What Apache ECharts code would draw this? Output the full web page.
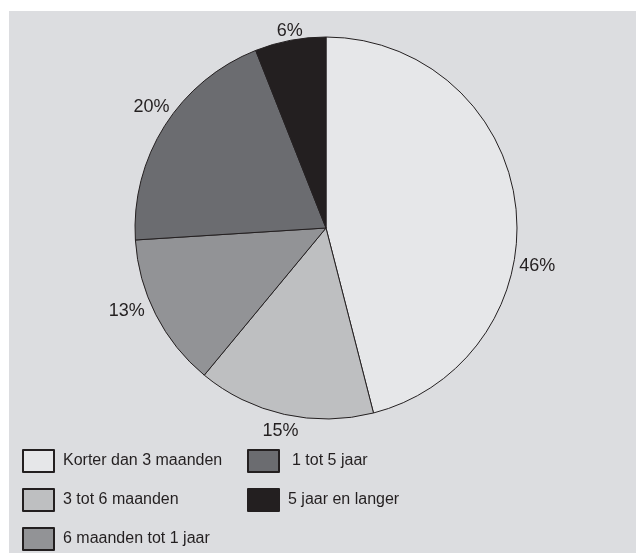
<!DOCTYPE html>
<html>
<head>
<meta charset="utf-8">
<script src="https://cdn.jsdelivr.net/npm/echarts@6/dist/echarts.min.js"></script>
<style>
  html, body { margin: 0; padding: 0; background: #ffffff; }
  #chart {
    position: absolute;
    left: 9px;
    top: 11px;
    width: 627px;
    height: 542px;
    background: #dcdde0;
  }
</style>
</head>
<body>
<div id="chart"></div>
<script>
const categories = [
  'Korter dan 3 maanden',
  '3 tot 6 maanden',
  '6 maanden tot 1 jaar',
  '1 tot 5 jaar',
  '5 jaar en langer'
]
const percentages = [46, 15, 13, 20, 6]
const sliceColors = ['#e6e7e9', '#bebfc1', '#929396', '#6b6c70', '#231f20']

const chart = echarts.init(document.getElementById('chart'))

const textColor = '#231f20'
const fontFamily = '"Liberation Sans", Arial, Helvetica, sans-serif'

// small hand nudges so the percentage labels sit where the original has them
const labelShift = [[4, 64], [0, -1], [-13, -12], [2, -9], [3, 8]]

const legendBase = {
  orient: 'vertical',
  top: 438,
  padding: 0,
  itemWidth: 31,
  itemHeight: 22,
  itemGap: 15,
  icon: 'rect',
  selectedMode: false,
  textStyle: {
    color: textColor,
    fontSize: 16,
    fontFamily: fontFamily,
    padding: [0, 0, 0, 4]
  }
}

const option = {
  animation: false,
  legend: [
    Object.assign({}, legendBase, {
      left: 13,
      data: categories.slice(0, 3)
    }),
    Object.assign({}, legendBase, {
      left: 238,
      data: [
        { name: categories[3], textStyle: { padding: [0, 0, 0, 8] } },
        categories[4]
      ]
    })
  ],
  series: [{
    type: 'pie',
    center: [317, 217],
    radius: 191,
    startAngle: 90,
    clockwise: true,
    silent: true,
    avoidLabelOverlap: false,
    itemStyle: {
      borderColor: textColor,
      borderWidth: 1
    },
    label: {
      show: true,
      position: 'outside',
      formatter: '{c}%',
      color: textColor,
      fontSize: 18,
      fontFamily: fontFamily,
      distanceToLabelLine: 0
    },
    labelLine: {
      show: false,
      length: 18,
      length2: 0
    },
    labelLayout: (params) => ({
      align: 'center',
      verticalAlign: 'middle',
      dx: labelShift[params.dataIndex][0],
      dy: labelShift[params.dataIndex][1]
    }),
    data: categories.map((name, i) => ({
      name: name,
      value: percentages[i],
      itemStyle: { color: sliceColors[i] }
    }))
  }]
}

chart.setOption(option)
</script>
</body>
</html>
